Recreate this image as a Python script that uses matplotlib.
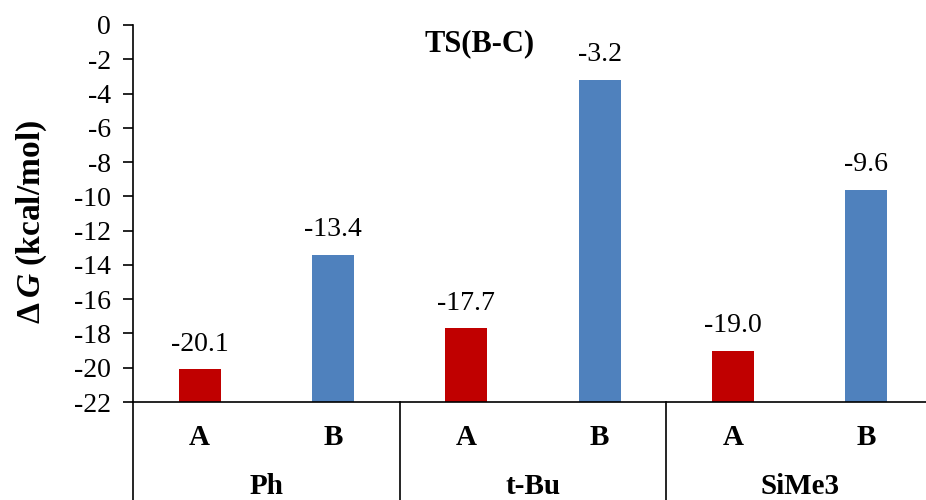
import numpy as np
import matplotlib
matplotlib.use("Agg")
import matplotlib.pyplot as plt

plt.rcParams["font.family"] = ["Liberation Serif", "DejaVu Serif"]
plt.rcParams["mathtext.fontset"] = "custom"
plt.rcParams["mathtext.rm"] = "Liberation Serif"
plt.rcParams["mathtext.bf"] = "Liberation Serif:bold"
plt.rcParams["mathtext.bfit"] = "Liberation Serif:bold:italic"

groups = ["Ph", "t-Bu", "SiMe3"]
subcats = ["A", "B", "A", "B", "A", "B"]
values = [-20.1, -13.4, -17.7, -3.2, -19.0, -9.6]
colors = ["#C00000", "#4F81BD"] * 3
yticks = list(range(0, -23, -2))
ymin, ymax = -22, 0

fig = plt.figure(figsize=(9.26, 5.0), dpi=100)
ax = fig.add_axes([0.1436, 0.196, 0.864, 0.754])

x = np.arange(len(values))
heights = [v - ymin for v in values]
ax.bar(x, heights, bottom=ymin, width=0.315, color=colors, zorder=2)

for xi, v in zip(x, values):
    ax.annotate(f"{v:.1f}", (xi, v), xytext=(0, 9), textcoords="offset points",
                ha="center", va="bottom", fontsize=20)

ax.set_xlim(-0.5, len(values) - 0.5)
ax.set_ylim(ymin, ymax)
ax.set_yticks(yticks)
ax.set_yticklabels([str(t) for t in yticks])
ax.tick_params(axis="y", direction="out", length=7, width=1.2, pad=9, labelsize=20)
ax.set_xticks([])

for s in ["top", "right"]:
    ax.spines[s].set_visible(False)
ax.spines["left"].set_linewidth(1.2)
ax.spines["bottom"].set_linewidth(1.2)

# multi-level category axis below the plot
trans = ax.get_xaxis_transform()
for edge in [-0.5, 1.5, 3.5, 5.5]:
    ax.plot([edge, edge], [0, -0.5], color="black", lw=1.2, transform=trans,
            clip_on=False)
for xi, lab in zip(x, subcats):
    ax.text(xi, -0.095, lab, transform=trans, ha="center", va="center",
            fontsize=21, fontweight="bold")
for gi, g in enumerate(groups):
    ax.text(2 * gi + 0.5, -0.223, g, transform=trans, ha="center", va="center",
            fontsize=21, fontweight="bold")

ax.text(0.433, 0.95, "TS(B-C)", transform=ax.transAxes, ha="center", va="center",
        fontsize=22, fontweight="bold")

fig.text(0.034, 0.556, "Δ$\\,\\mathbfit{G}$ (kcal/mol)", rotation=90,
         ha="center", va="center", fontsize=24, fontweight="bold")

fig.savefig("out.png", dpi=100)
